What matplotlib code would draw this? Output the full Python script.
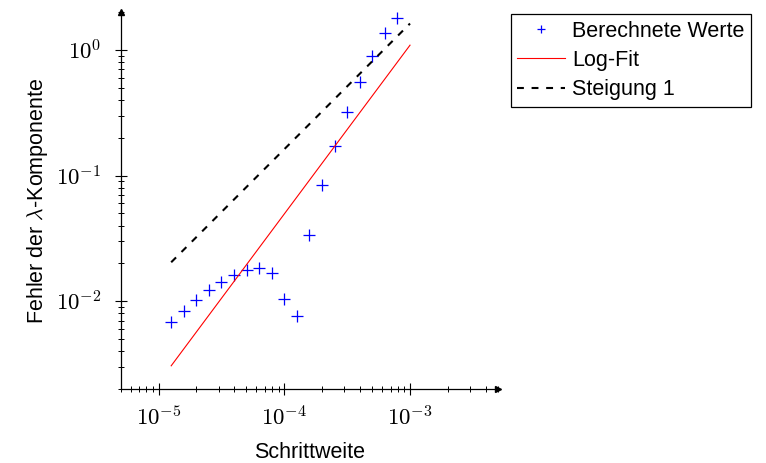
import matplotlib
matplotlib.use("Agg")
import matplotlib.pyplot as plt
from matplotlib.ticker import LogLocator, FuncFormatter, NullFormatter
import numpy as np

plt.rcParams['font.family'] = ['Liberation Sans', 'DejaVu Sans']
plt.rcParams['mathtext.fontset'] = 'cm'

# Schrittweiten und berechnete Fehler
schrittweite = [1.26e-5, 1.58e-5, 2.00e-5, 2.51e-5, 3.16e-5, 3.98e-5, 5.01e-5,
                6.31e-5, 7.94e-5, 1.00e-4, 1.26e-4, 1.58e-4, 2.00e-4, 2.51e-4,
                3.16e-4, 3.98e-4, 5.01e-4, 6.31e-4, 7.94e-4]
fehler = [6.87e-3, 8.32e-3, 1.02e-2, 1.22e-2, 1.42e-2, 1.62e-2, 1.78e-2,
          1.85e-2, 1.67e-2, 1.05e-2, 7.57e-3, 3.36e-2, 8.39e-2, 0.173,
          0.319, 0.558, 0.896, 1.36, 1.80]

# Endpunkte des Log-Fits und der Referenzgeraden
fit_x = [1.26e-5, 1.0e-3]
fit_y = [3.06e-3, 1.09]
ref_x = [1.26e-5, 1.0e-3]
ref_y = [2.04e-2, 1.62]

fig = plt.figure(figsize=(7.66, 4.63), dpi=100)
ax = fig.add_axes([0.1576, 0.1598, 0.4924, 0.8142])

ax.plot(schrittweite, fehler, linestyle='none', marker='+', color='blue',
        markersize=9, markeredgewidth=0.9, label='Berechnete Werte')
ax.plot(fit_x, fit_y, color='red', linewidth=0.8, label='Log-Fit')
ax.plot(ref_x, ref_y, color='black', linewidth=1.5, dashes=(3.3, 3.7),
        label='Steigung 1')

ax.set_xscale('log')
ax.set_yscale('log')
ax.set_xlim(5e-6, 5e-3)
ax.set_ylim(2e-3, 2.0)

fmt = FuncFormatter(lambda v, p: r'$10^{%d}$' % round(np.log10(v)))
for axis in (ax.xaxis, ax.yaxis):
    axis.set_major_locator(LogLocator(base=10, numticks=10))
    axis.set_minor_locator(LogLocator(base=10, subs=np.arange(2, 10), numticks=20))
    axis.set_major_formatter(fmt)
    axis.set_minor_formatter(NullFormatter())

ax.tick_params(which='major', direction='inout', length=8, width=0.8,
               labelsize=16.5)
ax.tick_params(axis='x', which='major', pad=8.5)
ax.tick_params(axis='y', which='major', pad=10)
ax.tick_params(which='minor', direction='inout', length=5, width=0.7)

for s in ('top', 'right'):
    ax.spines[s].set_visible(False)
for s in ('left', 'bottom'):
    ax.spines[s].set_linewidth(0.9)

# Pfeilspitzen an den Achsenenden
ax.plot(1, 0, marker='>', color='black', markersize=5,
        transform=ax.transAxes, clip_on=False)
ax.plot(0, 1, marker='^', color='black', markersize=5,
        transform=ax.transAxes, clip_on=False)

ax.set_xlabel('Schrittweite', fontsize=15.5, labelpad=8)
ax.set_ylabel(r'Fehler der $\lambda$-Komponente', fontsize=15.5, labelpad=4)

leg = fig.legend(loc='upper left', bbox_to_anchor=(0.667, 0.969),
                 fontsize=15.5, frameon=True, fancybox=False, framealpha=1,
                 edgecolor='black', borderpad=0.3, handlelength=2.2,
                 handletextpad=0.33, labelspacing=0.38, borderaxespad=0,
                 markerscale=0.7)
leg.get_frame().set_linewidth(0.9)

fig.savefig('out.png', dpi=100)
